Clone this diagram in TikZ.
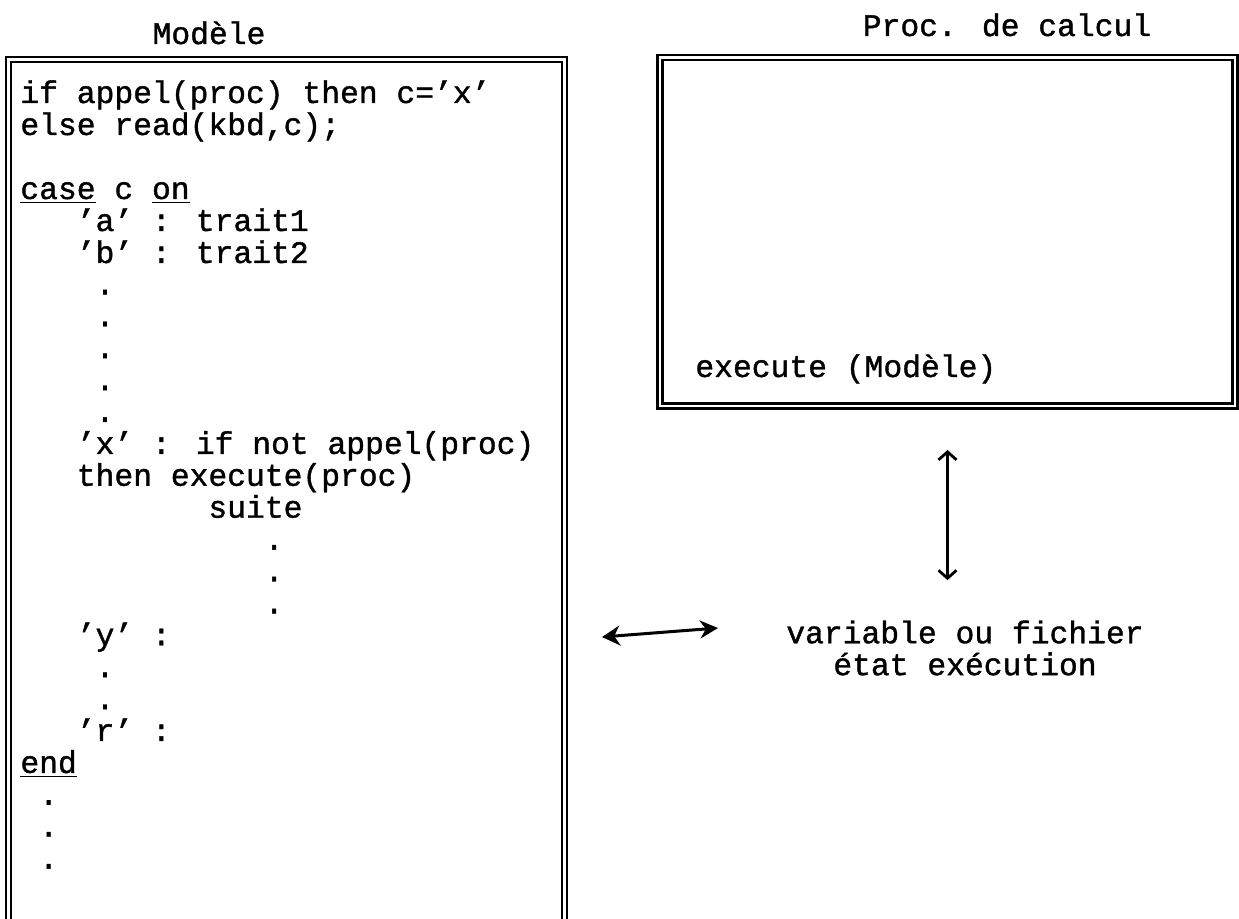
\documentclass[tikz,border=0pt]{standalone}
\usepackage{fontspec}
\newfontfamily\codefont[FakeBold=1.2]{Liberation Mono}
\newcommand\codage{\codefont\fontsize{15.67pt}{15.95pt}\selectfont}
\usetikzlibrary{arrows.meta}

\begin{document}
\begin{tikzpicture}[x=0.5pt,y=-0.5pt]
\tikzstyle{code}=[anchor=base west,inner sep=0pt,font=\codage]
\tikzstyle{titre}=[anchor=base,inner sep=0pt,font=\codage]
\tikzset{
	cadre/.style={draw,double,line width=1.1pt,double distance=1.4pt,inner sep=0pt,outer sep=0pt,anchor=north west},
	fleche/.style={line width=1.4pt,{Straight Barb[length=4pt,width=9pt]}-{Straight Barb[length=4pt,width=9pt]}},
	lien/.style={line width=1.5pt,{Stealth[length=9pt,width=10pt]}-{Stealth[length=9pt,width=9pt]}}
}
\useasboundingbox (0,0) rectangle (1239,919);

% titres
\node[titre] (t1) at (209,44) {Modèle};
\node[titre] (t2) at (1007,36) {Proc. de calcul};

% les deux cadres
\node[cadre,minimum width=278pt,minimum height=436pt] (modele) at (8.5,59.5) {};
\node[cadre,minimum width=287.5pt,minimum height=174.25pt] (calcul) at (660,57.5) {};

% texte du modele
\node[code] (l1) at (20,103) {if appel(proc) then c=’x’};
\node[code] (l2) at (20,135) {else read(kbd,c);};
\node[code] (l3) at (20,199) {\underline{case} c \underline{on}};
\node[code] (l4) at (76.4,231) {’a’ : trait1};
\node[code] (l5) at (76.4,263) {’b’ : trait2};
\foreach \y [count=\i] in {294.4,326.3,358.2,390.1,422}
	\node[code] (pa\i) at (95.2,\y) {.};
\node[code] (l6) at (76.4,453.9) {’x’ : if not appel(proc)};
\node[code] (l7) at (76.4,485.8) {then execute(proc)};
\node[code] (l8) at (208,517.7) {suite};
\foreach \y [count=\i] in {549.6,581.5,613.4}
	\node[code] (pb\i) at (264.4,\y) {.};
\node[code] (l9) at (76.4,645.3) {’y’ :};
\foreach \y [count=\i] in {677.2,709.1}
	\node[code] (pc\i) at (95.2,\y) {.};
\node[code] (l10) at (76.4,741) {’r’ :};
\node[code] (l11) at (20,772.9) {\underline{end}};
\foreach \y [count=\i] in {804.8,836.7,868.6}
	\node[code] (pd\i) at (38.8,\y) {.};

% proc. de calcul
\node[code] (exe) at (695,377) {execute (Modèle)};
\node[code,anchor=center,align=center] (etat) at (965,648) {variable ou fichier\\état exécution};

% liaisons
\coordinate (g) at (602,637);
\coordinate (d) at (718,628);
\draw[lien] (g) -- (d);
\draw[fleche,shorten <=22pt,shorten >=20pt] (calcul.south) -- (calcul.south |- etat.north);
\end{tikzpicture}
\end{document}
